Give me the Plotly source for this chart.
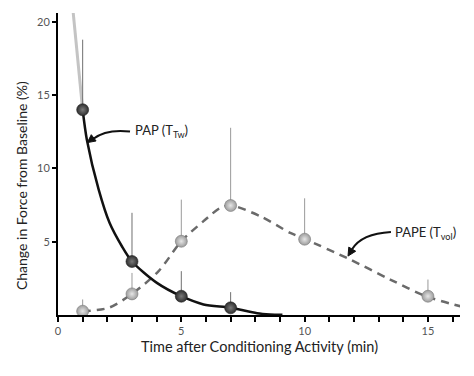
import plotly.graph_objects as go

# ---- data ----
time_points = [1, 3, 5, 7]
pap_values = [14.0, 3.65, 1.28, 0.49]
pap_err = [4.78, 3.32, 1.71, 1.07]

pape_time = [1, 3, 5, 7, 10, 15]
pape_values = [0.26, 1.44, 5.03, 7.47, 5.17, 1.28]
pape_err = [0.8, 1.43, 2.84, 5.3, 2.79, 1.14]

# fitted curves as traced on the picture
pap_curve_x = [1, 1.17, 1.65, 2.09, 2.59, 3, 4.01, 5, 5.9, 7, 8.07, 8.6, 9.1]
pap_curve_y = [14, 11.96, 8.55, 6.29, 4.69, 3.65, 2.19, 1.28, 0.72, 0.49, 0.12, 0.04, 0.02]
pap_extension_x = [0.6, 1]
pap_extension_y = [20.9, 14]

pape_curve_x = [1, 2.05, 3, 4.08, 5, 5.9, 6.58, 7, 8.2, 9.42, 10, 11.85, 13.47, 14.92, 16.31]
pape_curve_y = [0.26, 0.49, 1.44, 2.99, 5.03, 6.4, 7.31, 7.48, 6.74, 5.6, 5.19, 3.78, 2.42, 1.28, 0.6]

x_tick_labels = ["0", "5", "10", "15"]
y_tick_values = [5, 10, 15, 20]

x_title = "Time after Conditioning Activity (min)"
y_title = "Change in Force from Baseline (%)"

FONT = "Lato"

fig = go.Figure()

fig.add_trace(go.Scatter(x=pap_extension_x, y=pap_extension_y, mode="lines",
                         line=dict(color="#c4c4c4", width=3), hoverinfo="skip"))
fig.add_trace(go.Scatter(x=pape_curve_x, y=pape_curve_y, mode="lines",
                         line=dict(color="#6a6a6a", width=2.5, dash="8px,6px", shape="spline", smoothing=0.8),
                         hoverinfo="skip"))
fig.add_trace(go.Scatter(x=pap_curve_x, y=pap_curve_y, mode="lines",
                         line=dict(color="#111111", width=2.5, shape="spline", smoothing=0.8),
                         hoverinfo="skip"))

fig.add_trace(go.Scatter(
    x=pape_time, y=pape_values, mode="markers",
    error_y=dict(type="data", symmetric=False, array=pape_err, arrayminus=[0] * len(pape_err),
                 color="#9a9a9a", thickness=1, width=0),
    marker=dict(size=12, color="#9c9c9c", gradient=dict(type="radial", color="#e6e6e6"),
                line=dict(color="#7a7a7a", width=0.6)),
))
fig.add_trace(go.Scatter(
    x=time_points, y=pap_values, mode="markers",
    error_y=dict(type="data", symmetric=False, array=pap_err, arrayminus=[0] * len(pap_err),
                 color="#707070", thickness=1, width=0),
    marker=dict(size=12, color="#2e2e2e", gradient=dict(type="radial", color="#7a7a7a"),
                line=dict(color="#222222", width=0.6)),
))

# curved arrows (curve + filled head)
arrow_line = dict(color="#111111", width=2)
fig.add_shape(type="path", xref="x", yref="y",
              path="M 2.92,12.51 Q 1.95,12.7 1.42,12.0", line=arrow_line)
fig.add_shape(type="path", xref="x", yref="y",
              path="M 1.19,11.76 L 1.544,11.87 L 1.35,12.30 Z",
              line=dict(color="#111111", width=1), fillcolor="#111111")
fig.add_shape(type="path", xref="x", yref="y",
              path="M 13.5,5.67 Q 12.3,5.55 11.93,4.5", line=arrow_line)
fig.add_shape(type="path", xref="x", yref="y",
              path="M 11.76,4.02 L 12.07,4.35 L 11.79,4.63 Z",
              line=dict(color="#111111", width=1), fillcolor="#111111")

fig.add_annotation(x=3.04, y=12.55, xanchor="left", yanchor="middle", showarrow=False,
                   text="PAP (T<sub>Tw</sub>)", font=dict(family=FONT, size=13, color="#222222"))
fig.add_annotation(x=13.58, y=5.6, xanchor="left", yanchor="middle", showarrow=False,
                   text="PAPE (T<sub>vol</sub>)", font=dict(family=FONT, size=13, color="#222222"))

# axis titles placed as in the reference (y title sits below the axis centre)
fig.add_annotation(xref="paper", yref="paper", x=-0.092, y=0.427, textangle=-90,
                   xanchor="center", yanchor="middle", showarrow=False, text=y_title,
                   font=dict(family=FONT, size=14, color="#222222"))
fig.add_annotation(xref="paper", yref="paper", x=0.5, y=-0.104,
                   xanchor="center", yanchor="middle", showarrow=False, text=x_title,
                   font=dict(family=FONT, size=14.5, color="#222222"))

# the page body has an 8px default margin, so the figure is sized to fit inside it
fig.update_layout(
    width=458, height=360,
    margin=dict(l=50, r=6, t=5, b=53),
    paper_bgcolor="white", plot_bgcolor="white",
    showlegend=False,
    font=dict(family=FONT, size=11, color="#444444"),
    xaxis=dict(range=[0, 16.3], tickvals=[0, 5, 10, 15], ticktext=x_tick_labels,
               automargin=False,
               showline=True, linecolor="black", linewidth=2, showgrid=False, zeroline=False,
               ticks="outside", ticklen=5, tickwidth=1.5, tickcolor="black",
               minor=dict(dtick=1, tick0=0, ticks="outside", ticklen=5, tickwidth=1.5, tickcolor="black", showgrid=False),
               tickfont=dict(family=FONT, size=11, color="#555555")),
    yaxis=dict(range=[0, 20.6], tickvals=y_tick_values,
               automargin=False,
               showline=True, linecolor="black", linewidth=2, showgrid=False, zeroline=False,
               ticks="outside", ticklen=4, tickwidth=1.5, tickcolor="black",
               tickfont=dict(family=FONT, size=11, color="#555555")),
)

fig.write_html("out.html")
